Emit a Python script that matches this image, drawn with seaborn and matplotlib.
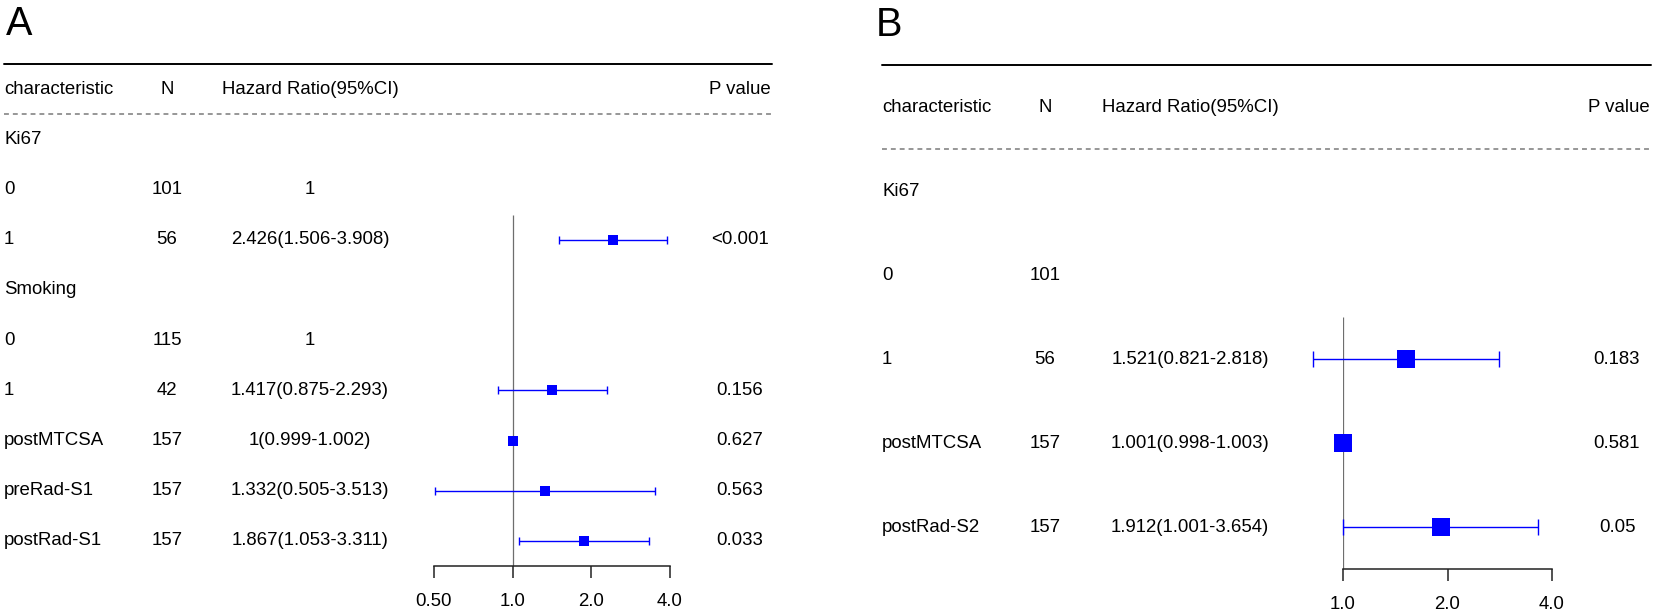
import numpy as np
import matplotlib
matplotlib.use("Agg")
import matplotlib.pyplot as plt
import matplotlib.transforms as mtransforms
import seaborn as sns

# Panel A - Ki67 / Smoking / radiomics
labels_a = ["Ki67", "0", "1", "Smoking", "0", "1", "postMTCSA", "preRad-S1", "postRad-S1"]
n_a = ["", "101", "56", "", "115", "42", "157", "157", "157"]
hr_text_a = ["", "1", "2.426(1.506-3.908)", "", "1", "1.417(0.875-2.293)",
             "1(0.999-1.002)", "1.332(0.505-3.513)", "1.867(1.053-3.311)"]
p_a = ["", "", "<0.001", "", "", "0.156", "0.627", "0.563", "0.033"]
hr_a = [np.nan, np.nan, 2.426, np.nan, np.nan, 1.417, 1.0, 1.332, 1.867]
lo_a = [np.nan, np.nan, 1.506, np.nan, np.nan, 0.875, 0.999, 0.505, 1.053]
hi_a = [np.nan, np.nan, 3.908, np.nan, np.nan, 2.293, 1.002, 3.513, 3.311]
ticks_a = [0.5, 1.0, 2.0, 4.0]
ticklabels_a = ["0.50", "1.0", "2.0", "4.0"]

# Panel B
labels_b = ["Ki67", "0", "1", "postMTCSA", "postRad-S2"]
n_b = ["", "101", "56", "157", "157"]
hr_text_b = ["", "", "1.521(0.821-2.818)", "1.001(0.998-1.003)", "1.912(1.001-3.654)"]
p_b = ["", "", "0.183", "0.581", "0.05"]
hr_b = [np.nan, np.nan, 1.521, 1.001, 1.912]
lo_b = [np.nan, np.nan, 0.821, 0.998, 1.001]
hi_b = [np.nan, np.nan, 2.818, 1.003, 3.654]
ticks_b = [1.0, 2.0, 4.0]
ticklabels_b = ["1.0", "2.0", "4.0"]

headers = ["characteristic", "N", "Hazard Ratio(95%CI)", "P value"]

W, H = 1654, 615
FS = 13.4

sns.set_theme(style="white")
plt.rcParams["font.family"] = ["Liberation Sans", "DejaVu Sans"]
plt.rcParams["text.color"] = "black"
plt.rcParams["xtick.color"] = "black"
plt.rcParams["xtick.labelcolor"] = "black"


def px_box(left, right, top, bottom):
    """pixel kutusunu figure oranina cevir"""
    return [left / W, 1 - bottom / H, (right - left) / W, (bottom - top) / H]


def draw_panel(fig, box, labels, n, hr_text, p, hr, lo, hi, ticks, ticklabels,
               cols, letter, letter_pos, box_size, capsize):
    ax = fig.add_axes(px_box(*box))
    nrow = len(labels)
    rows = np.arange(nrow)
    hr = np.array(hr)
    lo = np.array(lo)
    hi = np.array(hi)

    ax.set_xscale("log", base=2)
    ax.set_xlim(ticks[0], ticks[-1])
    ax.set_ylim(nrow - 0.5, -1.5)

    # referans cizgisi (HR = 1)
    first = np.where(~np.isnan(hr))[0][0]
    ax.vlines(1.0, first - 0.5, nrow - 0.5, color="#6e6e6e", lw=0.9, zorder=1)

    # guven araliklari
    ax.errorbar(hr, rows, xerr=[hr - lo, hi - hr], fmt="none", ecolor="blue",
                elinewidth=1.0, capsize=capsize, capthick=1.0, zorder=2, clip_on=False)
    sns.scatterplot(x=hr, y=rows, marker="s", s=box_size, color="blue",
                    linewidth=0, ax=ax, zorder=3, clip_on=False, legend=False)

    for side in ["top", "left", "right"]:
        ax.spines[side].set_visible(False)
    ax.spines["bottom"].set_color("#222222")
    ax.spines["bottom"].set_linewidth(1.1)
    ax.set_yticks([])
    ax.set_xticks(ticks)
    ax.set_xticklabels(ticklabels)
    ax.xaxis.set_minor_locator(matplotlib.ticker.NullLocator())
    ax.tick_params(axis="x", direction="out", length=8.6, width=1.1,
                   color="#222222", labelcolor="black", labelsize=FS, pad=10.5, bottom=True)
    ax.set_xlabel("")
    ax.set_ylabel("")
    ax.patch.set_alpha(0)

    x_char, x_n, x_hr, x_p, x_pr, x_end = cols
    tr = mtransforms.blended_transform_factory(fig.transFigure, ax.transData)

    # tablo basliklari ve cizgiler
    ax.plot([x_char / W, x_end / W], [-1.5, -1.5], transform=tr, color="black",
            lw=1.4, clip_on=False)
    ax.plot([x_char / W, x_end / W], [-0.5, -0.5], transform=tr, color="#7a7a7a",
            lw=1.1, ls=(0, (3.2, 2.6)), clip_on=False)
    ax.text(x_char / W, -1, headers[0], transform=tr, ha="left", va="center", fontsize=FS)
    ax.text(x_n / W, -1, headers[1], transform=tr, ha="center", va="center", fontsize=FS)
    ax.text(x_hr / W, -1, headers[2], transform=tr, ha="center", va="center", fontsize=FS)
    ax.text(x_pr / W, -1, headers[3], transform=tr, ha="right", va="center", fontsize=FS)

    for i in rows:
        ax.text(x_char / W, i, labels[i], transform=tr, ha="left", va="center", fontsize=FS)
        ax.text(x_n / W, i, n[i], transform=tr, ha="center", va="center", fontsize=FS)
        ax.text(x_hr / W, i, hr_text[i], transform=tr, ha="center", va="center", fontsize=FS)
        ax.text(x_p / W, i, p[i], transform=tr, ha="center", va="center", fontsize=FS)

    fig.text(letter_pos[0] / W, 1 - letter_pos[1] / H, letter, ha="left",
             va="baseline", fontsize=28.5)
    return ax


fig = plt.figure(figsize=(W / 100, H / 100), dpi=100)

draw_panel(fig, (434, 670, 64, 566), labels_a, n_a, hr_text_a, p_a, hr_a, lo_a, hi_a,
           ticks_a, ticklabels_a, (4, 167, 310, 740, 771, 772), "A", (6, 35),
           box_size=62, capsize=3.2)
draw_panel(fig, (1343, 1552, 65, 569), labels_b, n_b, hr_text_b, p_b, hr_b, lo_b, hi_b,
           ticks_b, ticklabels_b, (882, 1045, 1190, 1617, 1650, 1651), "B", (876, 36),
           box_size=169, capsize=6.1)

fig.savefig("out.png", dpi=100, facecolor="white")
